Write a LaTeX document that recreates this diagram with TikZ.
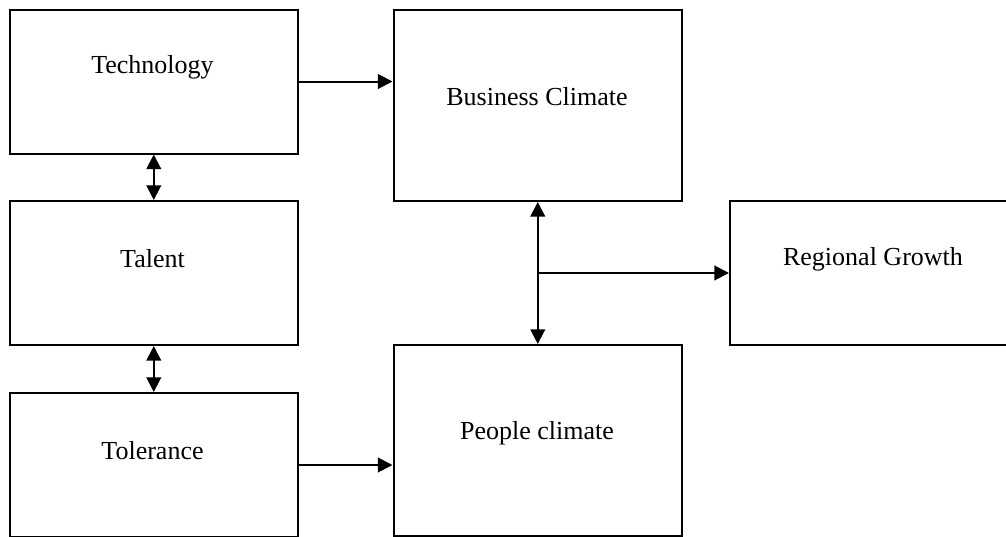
\documentclass[tikz,border=0pt]{standalone}
\usepackage{fontspec}
\setmainfont{Liberation Serif}
\usetikzlibrary{arrows.meta,calc}
\begin{document}
\begin{tikzpicture}[x=0.75pt,y=-0.75pt,
  box/.style={draw, line width=1.5pt, rectangle, inner sep=0pt, anchor=north west},
  lbl/.style={font=\fontsize{19.5}{23}\selectfont, inner sep=0pt},
  conn/.style={line width=1.5pt, -{Triangle[length=11pt,width=11pt]}},
  dconn/.style={line width=1.5pt, {Triangle[length=11pt,width=11pt]}-{Triangle[length=11pt,width=11pt]}}]
\clip (0,0) rectangle (1006,536);
\node[box, minimum width=216.4pt, minimum height=108pt] (tech) at (8.5,8.5) {};
\node[box, minimum width=216.4pt, minimum height=108pt] (talent) at (8.5,200) {};
\node[box, minimum width=216.4pt, minimum height=108pt] (tol) at (8.5,392) {};
\node[box, minimum width=216.4pt, minimum height=143.6pt] (bus) at (392.5,8.5) {};
\node[box, minimum width=216.4pt, minimum height=143.6pt] (people) at (392.5,344) {};
\node[box, minimum width=216.4pt, minimum height=108pt] (reg) at (729,200) {};
\node[lbl] (techt) at (152.5,67) {Technology};
\node[lbl] (talentt) at (152.5,259) {Talent};
\node[lbl] (tolt) at (152.5,451) {Tolerance};
\node[lbl] (bust) at (537,97) {Business Climate};
\node[lbl] (peoplet) at (537,433) {People climate};
\node[lbl] (regt) at (873,259) {Regional Growth};
\draw[conn] (tech.east) -- (tech.east -| bus.west);
\draw[conn] (tol.east) -- (tol.east -| people.west);
\draw[dconn] (tech.south) -- (talent.north);
\draw[dconn] (talent.south) -- (tol.north);
\draw[dconn] (bus.south) -- (people.north);
\coordinate (mid) at ($(bus.south)!0.5!(people.north)$);
\draw[conn] (mid) -- (mid -| reg.west);
\end{tikzpicture}
\end{document}
